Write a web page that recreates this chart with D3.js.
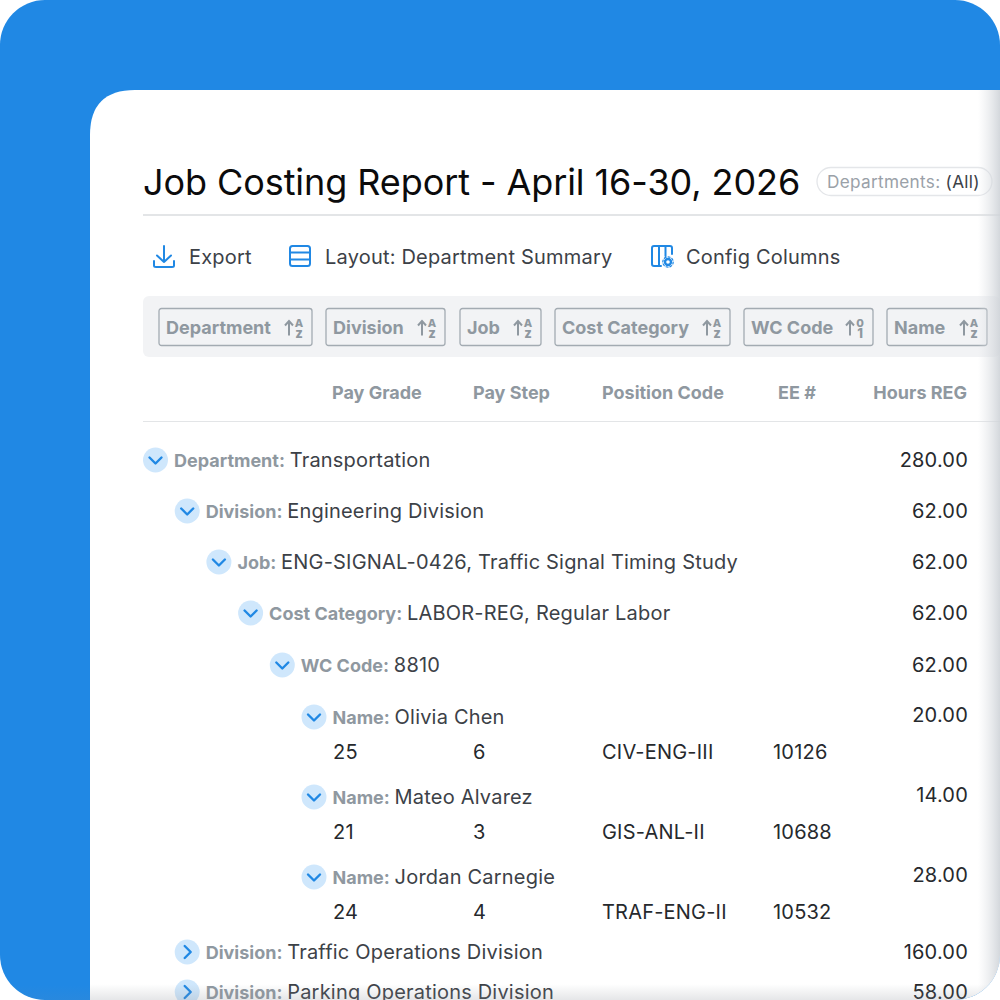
<!DOCTYPE html>
<html><head><meta charset="utf-8">
<script src="https://cdn.jsdelivr.net/npm/d3@7"></script>
<style>html,body{margin:0;padding:0;background:#fff}svg{display:block}text{font-family:Inter,"Noto Sans",sans-serif}</style>
</head><body><div id="c"></div>
<script>
const title = "Job Costing Report - April 16-30, 2026";
const toolbar = ["Export", "Layout: Department Summary", "Config Columns"];
const sortFields = ["Department", "Division", "Job", "Cost Category", "WC Code", "Name"];
const sortGlyphs = [["A","Z"],["A","Z"],["A","Z"],["A","Z"],["0","1"],["A","Z"]];
const headers = ["Pay Grade", "Pay Step", "Position Code", "EE #", "Hours REG"];
const rowKinds = ["Department","Division","Job","Cost Category","WC Code","Name","Name","Name","Division","Division"];
const rowLevels = [0,1,2,3,4,5,5,5,1,1];
const rowNames = ["Transportation","Engineering Division","ENG-SIGNAL-0426, Traffic Signal Timing Study","LABOR-REG, Regular Labor","8810","Olivia Chen","Mateo Alvarez","Jordan Carnegie","Traffic Operations Division","Parking Operations Division"];
const rowHours = [280,62,62,62,62,20,14,28,160,58];
const rowOpen = [1,1,1,1,1,1,1,1,0,0];
const payGrades = [null,null,null,null,null,25,21,24,null,null];
const paySteps = [null,null,null,null,null,6,3,4,null,null];
const positionCodes = [null,null,null,null,null,"CIV-ENG-III","GIS-ANL-II","TRAF-ENG-II",null,null];
const eeNumbers = [null,null,null,null,null,10126,10688,10532,null,null];

const W=1000,H=1000;
const svg=d3.select("#c").append("svg").attr("width",W).attr("height",H);
const defs=svg.append("defs");
defs.append("clipPath").attr("id","outer").append("rect").attr("width",W).attr("height",H).attr("rx",45);
const gr=defs.append("linearGradient").attr("id","edgeR");
gr.append("stop").attr("offset",0).attr("stop-color","#dfe2e6").attr("stop-opacity",0);
gr.append("stop").attr("offset",1).attr("stop-color","#cfd3d8").attr("stop-opacity",.9);
const gb=defs.append("linearGradient").attr("id","edgeB").attr("x1",0).attr("x2",0).attr("y1",0).attr("y2",1);
gb.append("stop").attr("offset",0).attr("stop-color","#8a8f96").attr("stop-opacity",0);
gb.append("stop").attr("offset",1).attr("stop-color","#8a8f96").attr("stop-opacity",.22);

const root=svg.append("g").attr("clip-path","url(#outer)");
root.append("rect").attr("width",W).attr("height",H).attr("fill","#2088E4");
const px=90,py=90,pr=45;
root.append("path").attr("fill","#fff").attr("d",`M${px},${H}V${py+pr}Q${px},${py} ${px+pr},${py}H${W}V${H}Z`);

const ink="#3C4147", grey="#8F98A0", blue="#2088E4";
const spacing=0.2;

// title
root.append("text").attr("x",143).attr("y",195).attr("font-size",36).attr("letter-spacing",-0.08).attr("fill","#0b0b0c").text(title);
root.append("rect").attr("x",817).attr("y",167.5).attr("width",175).attr("height",28).attr("rx",14).attr("fill","#fff").attr("stroke","#e4e6e9").attr("stroke-width",1.3);
const pill=root.append("text").attr("x",827).attr("y",188).attr("font-size",17.2).attr("letter-spacing",0.3);
pill.append("tspan").attr("fill","#9aa1a8").text("Departments: ");
pill.append("tspan").attr("fill",ink).text("(All)");
root.append("rect").attr("x",143).attr("y",214).attr("width",857).attr("height",2).attr("fill","#e3e5e7");

// toolbar
const tbX=d3.scaleOrdinal().domain(toolbar).range([189,325,686]);
root.selectAll("text.tb").data(toolbar).join("text").attr("class","tb")
  .attr("x",d=>tbX(d)).attr("y",264).attr("font-size",20).attr("letter-spacing",spacing).attr("fill",ink).text(d=>d);
const ic=root.append("g").attr("fill","none").attr("stroke",blue).attr("stroke-width",2).attr("stroke-linecap","round").attr("stroke-linejoin","round");
ic.append("path").attr("d","M164,246V262M157,255.5L164,262L171,255.5M154,261V265.5Q154,267 156,267H172Q174,267 174,265.5V261");
ic.append("rect").attr("x",290).attr("y",246).attr("width",20).attr("height",20).attr("rx",2.5);
ic.append("path").attr("d","M290,252.5H310M290,259.5H310");
ic.append("path").attr("d","M661,266H654Q652,266 652,264V248Q652,246 654,246H670Q672,246 672,248V254M659,246V266M665.500,246V256");
ic.append("circle").attr("cx",668).attr("cy",262).attr("r",3).attr("stroke-width",2.4);
ic.append("circle").attr("cx",668).attr("cy",262).attr("r",5.2).attr("stroke-width",1.2).attr("stroke-dasharray","2 2");

// sort bar
root.append("rect").attr("x",143).attr("y",296).attr("width",857).attr("height",61).attr("rx",6).attr("fill","#F2F3F5");
const chipLeft=d3.scaleOrdinal().domain(sortFields).range([159,326,460,555,744,887]);
const chipWidth=d3.scaleOrdinal().domain(sortFields).range([153,119,81,175,129,100]);
const chips=root.selectAll("g.chip").data(sortFields).join("g").attr("class","chip").attr("transform",d=>`translate(${chipLeft(d)},308.5)`);
chips.append("rect").attr("width",d=>chipWidth(d)).attr("height",37).attr("rx",2.5).attr("fill","none").attr("stroke","#A3ABB2").attr("stroke-width",1.3);
chips.append("text").attr("x",7).attr("y",25).attr("font-size",18).attr("font-weight",700).attr("fill",grey).text(d=>d);
chips.append("path").attr("transform",d=>`translate(${chipWidth(d)-27},0)`)
  .attr("d","M4,27V13M0,17L4,12.500L8,17").attr("fill","none").attr("stroke",grey).attr("stroke-width",2);
chips.each(function(d,i){
  const x=chipWidth(d)-13;
  const t=d3.select(this).append("text").attr("text-anchor","middle").attr("font-weight",800).attr("fill",grey);
  t.append("tspan").attr("x",x).attr("y",18.5).attr("font-size",11).text(sortGlyphs[i][0]);
  t.append("tspan").attr("x",x).attr("y",29).attr("font-size",13).text(sortGlyphs[i][1].toLowerCase());
});

// column header
const headX=d3.scaleOrdinal().domain(headers).range([332,473,602,778,967]);
root.selectAll("text.h").data(headers).join("text").attr("class","h")
  .attr("x",d=>headX(d)).attr("y",399).attr("text-anchor",d=>d==="Hours REG"?"end":"start")
  .attr("font-size",18).attr("font-weight",700).attr("fill",grey).text(d=>d);
root.append("rect").attr("x",143).attr("y",421).attr("width",857).attr("height",1).attr("fill","#e3e5e7");

// rows
const levelX=d3.scaleLinear().domain([0,5]).range([155.5,314]);
const rowY=[];
rowKinds.forEach((k,i)=>{
  if(i===0){rowY.push(460);return;}
  let gap;
  if(payGrades[i-1]!=null) gap = payGrades[i]!=null?80:75;
  else if(payGrades[i]!=null || i===4) gap = 52;
  else if(i>=9) gap = 40;
  else gap = 51;
  rowY.push(rowY[i-1]+gap);
});
const detailGap=35;
const rows=root.selectAll("g.row").data(rowKinds.map((k,i)=>i)).join("g").attr("class","row")
  .attr("transform",i=>`translate(0,${rowY[i]})`);
rows.append("circle").attr("cx",i=>levelX(rowLevels[i])).attr("r",12.5).attr("fill","#CFE7FC");
rows.append("path").attr("fill","none").attr("stroke",blue).attr("stroke-width",2.4).attr("stroke-linecap","round").attr("stroke-linejoin","round")
  .attr("transform",i=>`translate(${levelX(rowLevels[i])},0)`)
  .attr("d",i=>rowOpen[i]?"M-6,-2.5L0,3.500L6,-2.5":"M-2.5,-6L3.500,0L-2.5,6");
const rowText=rows.append("text").attr("x",i=>levelX(rowLevels[i])+18.5).attr("y",7);
rowText.append("tspan").attr("font-size",18).attr("font-weight",700).attr("fill",grey).text(i=>rowKinds[i]+": ");
rowText.append("tspan").attr("font-size",20).attr("dx",0.5).attr("letter-spacing",spacing).attr("fill",ink).text(i=>rowNames[i]);
const hourFmt=d3.format(".2f");
rows.append("text").attr("x",968).attr("y",i=>payGrades[i]!=null?5:7).attr("text-anchor","end").attr("font-size",20).attr("letter-spacing",spacing).attr("fill","#26292d").text(i=>hourFmt(rowHours[i]));

const detailCols=[[payGrades,333],[paySteps,473],[positionCodes,602],[eeNumbers,773]];
detailCols.forEach(([arr,x])=>{
  rows.filter(i=>arr[i]!=null).append("text").attr("x",x).attr("y",detailGap+7).attr("font-size",20).attr("letter-spacing",spacing).attr("fill","#26292d").text(i=>arr[i]);
});

// edge shading
root.append("rect").attr("x",978).attr("y",90).attr("width",22).attr("height",910).attr("fill","url(#edgeR)");
root.append("rect").attr("x",90).attr("y",984).attr("width",910).attr("height",16).attr("fill","url(#edgeB)");
root.append("rect").attr("x",0).attr("y",985).attr("width",90).attr("height",15).attr("fill","url(#edgeB)").attr("opacity",.35);
</script></body></html>
